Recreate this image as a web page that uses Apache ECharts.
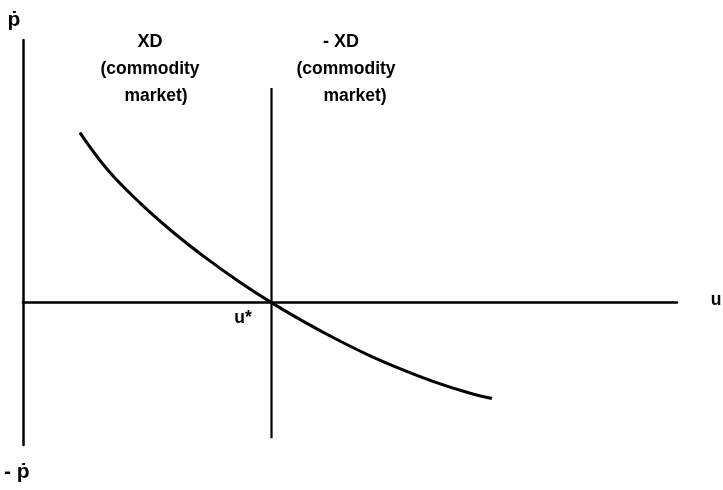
<!DOCTYPE html>
<html>
<head>
<meta charset="utf-8">
<script src="https://cdn.jsdelivr.net/npm/echarts@6/dist/echarts.min.js"></script>
<style>html,body{margin:0;padding:0;background:#fff;}#chart{width:723px;height:490px;}</style>
</head>
<body>
<div id="chart"></div>
<script>
// Curve (excess demand in commodity market): u vs p-dot
var curveU = [8.7, 13, 18, 23, 28, 33, 38, 43, 48, 53, 58, 63, 68, 71.7];
var curveP = [42.4, 33.0, 24.7, 17.5, 11.1, 5.3, 0.0, -4.8, -9.2, -13.2, -16.7, -19.8, -22.4, -23.9];
// Vertical line at u*
var uStar = 38;
var uStarLineP = [53.5, -33.8];
// Labels
var leftLabels = ['XD', '(commodity', 'market)'];
var rightLabels = ['- XD', '(commodity', 'market)'];

var chart = echarts.init(document.getElementById('chart'), null, {renderer: 'canvas'});
function txt(s, x, y, align, size) {
  return {type: 'text', x: x, y: y, style: {text: s, font: 'bold ' + (size || 17.5) + 'px "Liberation Sans", "DejaVu Sans", sans-serif', fill: '#000', textAlign: align || 'center', textVerticalAlign: 'middle'}};
}
var option = {
  animation: false,
  backgroundColor: '#fff',
  grid: {left: 23, right: 46, top: 40, bottom: 45},
  xAxis: {type: 'value', min: 0, max: 100,
    axisLine: {show: true, onZero: true, lineStyle: {color: '#000', width: 2.5}},
    axisTick: {show: false}, axisLabel: {show: false}, splitLine: {show: false}},
  yAxis: {type: 'value', min: -35.5, max: 65.5,
    axisLine: {show: true, onZero: false, lineStyle: {color: '#000', width: 2.5}},
    axisTick: {show: false}, axisLabel: {show: false}, splitLine: {show: false}},
  series: [
    {type: 'line', data: curveU.map(function(u, i){ return [u, curveP[i]]; }),
     smooth: 0.4, symbol: 'none', lineStyle: {color: '#000', width: 3}},
    {type: 'line', data: uStarLineP.map(function(p){ return [uStar, p]; }),
     symbol: 'none', lineStyle: {color: '#000', width: 2.2}}
  ],
  graphic: [
    txt('ṗ', 14, 20, 'center', 21),
    txt('- ṗ', 4, 472, 'left', 21),
    txt('u', 716, 300),
    txt('u*', 243, 318),
    txt(leftLabels[0], 150, 42, 'center', 18),
    txt(leftLabels[1], 150, 69),
    txt(leftLabels[2], 156, 96),
    txt(rightLabels[0], 341, 42, 'center', 18),
    txt(rightLabels[1], 346, 69),
    txt(rightLabels[2], 355, 96)
  ]
};
chart.setOption(option);
</script>
</body>
</html>
